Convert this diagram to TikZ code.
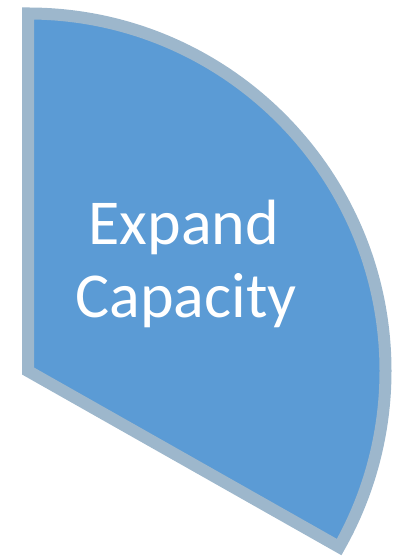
\documentclass[tikz,border=0pt]{standalone}
\usepackage{fontspec}
\setmainfont{Carlito}
\definecolor{sectorfill}{RGB}{91,155,213}
\definecolor{sectorline}{RGB}{157,183,204}
\begin{document}
\begin{tikzpicture}[x=1pt,y=1pt,
  sector/.style={fill=sectorfill,draw=sectorline,line width=12pt,line join=miter},
  label/.style={text=white,font=\fontsize{64}{73}\selectfont,inner sep=0pt,anchor=base}]
\useasboundingbox (0,0) rectangle (396,556);
\coordinate (c) at (28,185);
\draw[sector] (c) -- (28,542.5) arc[start angle=90,end angle=-29.5,radius=357.5] -- cycle;
\node[label] (l1) at (184,311) {Expand};
\node[label] (l2) at (186,238) {Capacity};
\end{tikzpicture}
\end{document}
